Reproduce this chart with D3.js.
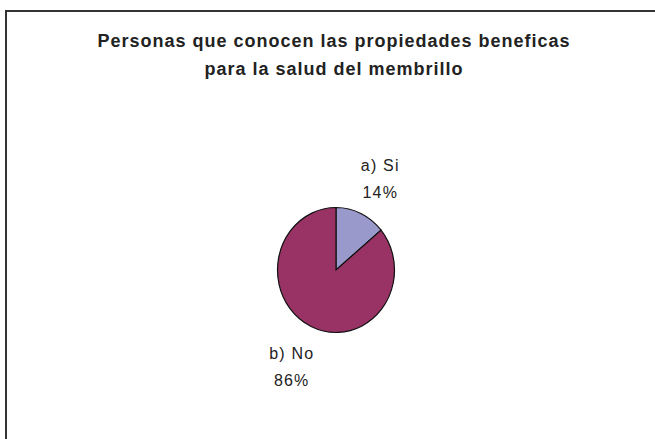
<!DOCTYPE html>
<html>
<head>
<meta charset="utf-8">
<script src="https://cdn.jsdelivr.net/npm/d3@7"></script>
<style>
	body { margin: 0; background: #fff; }
	svg { display: block; font-family: "Liberation Sans", Arial, sans-serif; }
</style>
</head>
<body>
<svg id="chart" width="655" height="439"></svg>
<script>
"use strict";

// chart data
var categories = ["a) Si", "b) No"];
var values = [14, 86];
var colors = ["#9999cc", "#993366"];
var titleLines = ["Personas que conocen las propiedades beneficas", "para la salud del membrillo"];

var svg = d3.select("#chart");

// frame (right and bottom edges fall outside the picture)
svg.append("path")
	.attr("d", "M6,439V11H655")
	.attr("fill", "none")
	.attr("stroke", "#333")
	.attr("stroke-width", 2);

// title
svg.append("g")
	.selectAll("text")
	.data(titleLines)
	.enter()
	.append("text")
	.attr("x", 334)
	.attr("y", (d, i) => 47 + i * 28)
	.attr("text-anchor", "middle")
	.attr("font-size", 18)
	.attr("font-weight", "bold")
	.attr("letter-spacing", 1)
	.attr("fill", "#222")
	.text(d => d);

// pie, slightly taller than wide like the original
var cx = 336, cy = 270;
var rx = 58.5, ry = 62.5;

var pie = d3.pie().sort(null).value(d => d);
var arcs = pie(values);
var arc = d3.arc().innerRadius(0).outerRadius(rx);

svg.append("g")
	.attr("transform", `translate(${cx},${cy}) scale(1,${ry / rx})`)
	.selectAll("path")
	.data(arcs)
	.enter()
	.append("path")
	.attr("d", arc)
	.attr("fill", (d, i) => colors[i])
	.attr("stroke", "#111")
	.attr("stroke-width", 1.2)
	.attr("vector-effect", "non-scaling-stroke");

// labels outside the pie, along each slice's mid angle
var total = d3.sum(values);
var labelR = 104;
var labels = svg.append("g").attr("transform", `translate(${cx},${cy})`);
arcs.forEach((d, i) => {
	let mid = (d.startAngle + d.endAngle) / 2;
	let x = Math.sin(mid) * labelR;
	let y = -Math.cos(mid) * labelR;
	let pct = Math.round(values[i] / total * 100) + "%";
	let t = labels.append("text")
		.attr("text-anchor", "middle")
		.attr("font-size", 16)
		.attr("letter-spacing", 1.2)
		.attr("fill", "#222");
	t.append("tspan").attr("x", x).attr("y", y - 5).text(categories[i]);
	t.append("tspan").attr("x", x).attr("y", y + 22).text(pct);
});
</script>
</body>
</html>
